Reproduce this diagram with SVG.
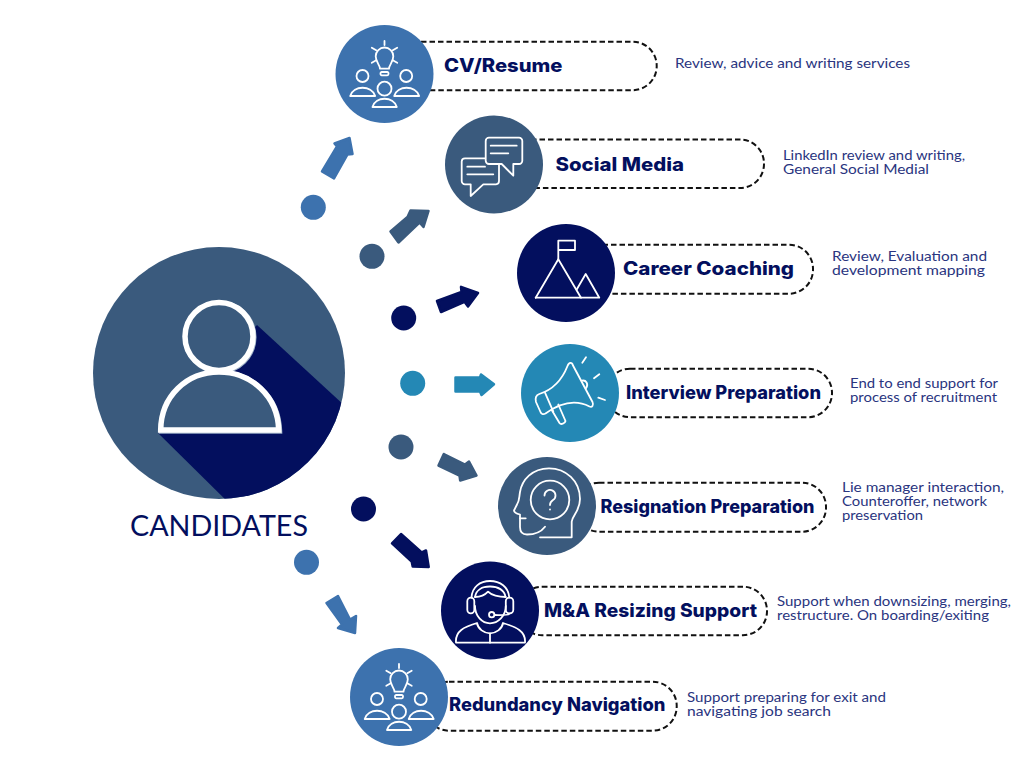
<svg xmlns="http://www.w3.org/2000/svg" xmlns:xlink="http://www.w3.org/1999/xlink" width="1024" height="768" viewBox="0 0 1024 768">
<style>
.blue{fill:#3d72ae}.slate{fill:#3a5a7d}.navy{fill:#030f5e}.teal{fill:#2488b5}
.arrow{stroke-width:2.5;stroke-linejoin:round}
.arrow.blue{stroke:#3d72ae}.arrow.slate{stroke:#3a5a7d}.arrow.navy{stroke:#030f5e}.arrow.teal{stroke:#2488b5}
.pill{fill:#fff;stroke:#111;stroke-width:2;stroke-dasharray:5.500 3}
.ic{fill:none;stroke:#fff;stroke-width:1.800;stroke-linecap:round;stroke-linejoin:round}
.title{font-family:"Inter","Liberation Sans",sans-serif;font-weight:800;font-size:18.500px;fill:#030f5e}
.desc{font-family:"Lato","Liberation Sans",sans-serif;font-size:12.500px;fill:#2a3580}
.main{font-family:"Lato","Liberation Sans",sans-serif;font-size:29px;fill:#030f5e}
</style>
<defs>
<clipPath id="mainClip"><circle cx="219" cy="373" r="126"/></clipPath>
<g id="ideaIcon" class="ic">
<path d="M-4.500 -5.300 C-4.500 -9 -8.800 -12 -8.800 -17.700 A8.800 8.800 0 1 1 8.800 -17.700 C8.800 -12 4.500 -9 4.500 -5.300 Z"/>
<rect x="-4" y="-2" width="8" height="3.300" rx="1.200"/>
<path d="M0 -33V-29M-12.700 -26.300L-8.300 -23.700M12.700 -26.300L8.300 -23.700M-12.700 -11.300L-8.300 -13.700M12.700 -11.300L8.300 -13.700"/>
<circle cx="-22" cy="2" r="6"/><circle cx="21.700" cy="2" r="6"/><circle cx="0" cy="14.700" r="7"/>
<path d="M-34.300 22C-31 11 -13 11 -9.300 22Z"/>
<path d="M9.700 22C13 11 31 11 34.700 22Z"/>
<path d="M-12 33C-9 22 9 22 12.300 33Z"/>
</g>
</defs>
<rect width="1024" height="768" fill="#fff"/>

<g id="connectors">
<circle class="blue" cx="313.300" cy="207.300" r="12.500"/>
<polygon class="arrow blue" points="322,171.500 337,146.500 334.500,143.500 349.500,138 352.500,154 347.500,154.500 334,178.500"/>
<circle class="slate" cx="372" cy="256.300" r="12.500"/>
<polygon class="arrow slate" points="390.500,231.500 407.500,217 410.500,210.500 428.500,211 423.500,227 419.500,222.500 398.500,242.500"/>
<circle class="navy" cx="403.700" cy="318" r="12.500"/>
<polygon class="arrow navy" points="437,301 461.500,292 461,286.800 478,293 468,306.500 464.500,301.800 441,312"/>
<circle class="teal" cx="412.700" cy="383.300" r="12.500"/>
<polygon class="arrow teal" points="455.500,377.500 480,377.500 481,374.500 494,384.300 481.500,395 480,391.500 455.500,391.500"/>
<circle class="slate" cx="401" cy="447" r="12.500"/>
<polygon class="arrow slate" points="438.500,465.500 443.800,454 465,464.500 469,461.500 476.500,475.500 460.200,480.500 459.500,475.500"/>
<circle class="navy" cx="363.500" cy="509" r="12.500"/>
<polygon class="arrow navy" points="392,543.300 401,534 421.700,552.500 426,550.500 428.700,567 412.700,566.500 411.700,561.500"/>
<circle class="blue" cx="306.500" cy="562.300" r="12.500"/>
<polygon class="arrow blue" points="326.500,603 338,596 350,619.500 356,616 355,633 338,628 342,624.500"/>
</g>

<g id="candidates">
<circle class="slate" cx="219" cy="373" r="126"/>
<polygon class="navy" clip-path="url(#mainClip)" points="257,325 345,406 345,510 236,510 158,433"/>
<g fill="none" stroke="#9db0c6" stroke-width="5.500">
<circle cx="219.800" cy="337.200" r="34"/>
<path d="M161.500 431C162 397 188 372.800 220 372.800C252 372.800 278.500 397 279.500 431Z"/>
</g>
<g fill="none" stroke="#fff" stroke-width="5.500">
<circle cx="219" cy="336.500" r="34" fill="#3a5a7d"/>
<path d="M160.700 430C161 396 187 372 219 372C251 372 277.800 396 278.700 430Z" fill="#3a5a7d"/>
</g>
<text class="main" x="130" y="536" textLength="178" lengthAdjust="spacingAndGlyphs">CANDIDATES</text>
</g>

<g id="cv-resume">
<rect class="pill" x="380" y="41.700" width="276.700" height="48.500" rx="24"/>
<circle class="blue" cx="384.500" cy="74" r="49"/>
<use href="#ideaIcon" xlink:href="#ideaIcon" x="384.500" y="74"/>
<text class="title" x="444" y="72" textLength="118.500" lengthAdjust="spacingAndGlyphs">CV/Resume</text>
<text class="desc" x="675" y="68" textLength="235" lengthAdjust="spacingAndGlyphs">Review, advice and writing services</text>
</g>

<g id="social-media">
<rect class="pill" x="490" y="139.500" width="274" height="48.500" rx="24"/>
<circle class="slate" cx="494" cy="164.500" r="49"/>
<g class="ic">
<path d="M465 158.300H496A3.300 3.300 0 0 1 499 161.500V181A3.300 3.300 0 0 1 496 184.300H483.300L470.700 196V184.300H465A3.300 3.300 0 0 1 461.700 181V161.500A3.300 3.300 0 0 1 465 158.300Z"/>
<path d="M467.300 166.700H485M467.300 174.300H493.300"/>
<path d="M489 137.700H519A3.300 3.300 0 0 1 522.300 141V160.700A3.300 3.300 0 0 1 519 164H513.300V175.700L501.700 164H489A3.300 3.300 0 0 1 485.700 160.700V141A3.300 3.300 0 0 1 489 137.700Z" fill="#3a5a7d"/>
<path d="M490.700 145.700H516.700M490.700 153.300H508.300"/>
</g>
<text class="title" x="555.500" y="171" textLength="128.500" lengthAdjust="spacingAndGlyphs">Social Media</text>
<text class="desc" x="783" y="160" textLength="182" lengthAdjust="spacingAndGlyphs">LinkedIn review and writing,</text>
<text class="desc" x="783" y="174" textLength="146" lengthAdjust="spacingAndGlyphs">General Social Medial</text>
</g>

<g id="career-coaching">
<rect class="pill" x="570" y="244.700" width="243" height="49" rx="24"/>
<circle class="navy" cx="566" cy="273" r="49"/>
<g class="ic">
<path d="M558.300 259.300V240.700H575V250H558.300"/>
<path d="M535.700 297.700L558.300 259.300L581 297.700"/>
<path d="M576.700 289.500L585.700 274L599.300 297.700H535.700"/>
</g>
<text class="title" x="623" y="275" textLength="171" lengthAdjust="spacingAndGlyphs">Career Coaching</text>
<text class="desc" x="832" y="261" textLength="155" lengthAdjust="spacingAndGlyphs">Review, Evaluation and</text>
<text class="desc" x="832" y="275" textLength="153" lengthAdjust="spacingAndGlyphs">development mapping</text>
</g>

<g id="interview-preparation">
<rect class="pill" x="606" y="368.700" width="226" height="48.500" rx="24"/>
<circle class="teal" cx="570" cy="393" r="49"/>
<g class="ic">
<path d="M539.300 394C552 390 562 380 567.500 366C569 362 572 362 573 365.500L592.500 402C594 405.500 592 407.500 589.500 406.500C575 399 560 403 545.500 413.500C543 415 541 413.800 540.500 412L536 402C535 398 536.500 395 539.300 394Z"/>
<path d="M545 392.700L553.300 411.700"/>
<path d="M551.700 410L559.500 423C561 425 565 423.500 565.500 421L558.300 404.500"/>
<path d="M581.700 380.700C586 379.500 589 384 586 388.300"/>
<path d="M582.300 362.700L586 357.300M594 378.300L599.300 374.300M598.300 397.700L605 400"/>
</g>
<text class="title" x="626" y="399" textLength="195" lengthAdjust="spacingAndGlyphs">Interview Preparation</text>
<text class="desc" x="850" y="388" textLength="148" lengthAdjust="spacingAndGlyphs">End to end support for</text>
<text class="desc" x="850" y="402" textLength="147" lengthAdjust="spacingAndGlyphs">process of recruitment</text>
</g>

<g id="resignation-preparation">
<rect class="pill" x="575" y="482.700" width="251" height="49" rx="24"/>
<circle class="slate" cx="547" cy="506" r="49"/>
<g class="ic">
<path d="M540 537.300H571.700V521.700C573 514 580 511 580 499C580 481 566 468.300 549 468.300C532 468.300 522 480 520 492C519 498 519.500 501 517 504.500L514 510.500C514 513 518 514 520 514.500V527C520 532 523 534.500 527 534.500C534 534.500 541 532 545 526.700"/>
<path d="M520 518.300H525.700"/>
<circle cx="550" cy="500" r="19.300"/>
<path d="M544.500 495.500A5.500 5.500 0 1 1 553 500.100C551 501.500 550 502.600 550 505"/>
<path d="M550 509.300V509.500"/>
</g>
<text class="title" x="600.500" y="513" textLength="214" lengthAdjust="spacingAndGlyphs">Resignation Preparation</text>
<text class="desc" x="842" y="491.500" textLength="162" lengthAdjust="spacingAndGlyphs">Lie manager interaction,</text>
<text class="desc" x="842" y="505.500" textLength="145" lengthAdjust="spacingAndGlyphs">Counteroffer, network</text>
<text class="desc" x="842" y="519.500" textLength="81" lengthAdjust="spacingAndGlyphs">preservation</text>
</g>

<g id="ma-resizing-support">
<rect class="pill" x="518" y="586.700" width="249" height="48.500" rx="24"/>
<circle class="navy" cx="490" cy="610.500" r="49"/>
<g class="ic">
<path d="M471.500 597.500C472 587 480 581 490 581C500 581 508.500 587 509.300 597.500"/>
<path d="M475 597C476 590 482 586.500 490 586.500C498 586.500 504.500 590 505.500 597"/>
<rect x="467.300" y="597.700" width="7" height="15.600" rx="3.500"/>
<rect x="505.800" y="597.700" width="7.500" height="15.600" rx="3.500"/>
<path d="M475 597C480 597 485 595 488 591.700C491 595 499 597 505.800 597"/>
<path d="M475 606C475 616 482 623.300 490 623.300C498 623.300 505.800 616 505.800 606"/>
<path d="M510 613.300C509.500 615 505 615.500 494.500 615"/>
<circle cx="491.700" cy="614.700" r="2.700"/>
<path d="M456 642.700C455 631 464 627 477 623C478 629 484 633.300 490 633.300C496 633.300 502 629 503 623C516 627 526 631 525 642.700Z"/>
<path d="M490 633.300V642.700"/>
</g>
<text class="title" x="544" y="617" textLength="213" lengthAdjust="spacingAndGlyphs">M&amp;A Resizing Support</text>
<text class="desc" x="777" y="606" textLength="234" lengthAdjust="spacingAndGlyphs">Support when downsizing, merging,</text>
<text class="desc" x="777" y="620" textLength="212" lengthAdjust="spacingAndGlyphs">restructure. On boarding/exiting</text>
</g>

<g id="redundancy-navigation">
<rect class="pill" x="425" y="681.700" width="251.700" height="49" rx="24"/>
<circle class="blue" cx="399" cy="697" r="49"/>
<use href="#ideaIcon" xlink:href="#ideaIcon" x="399" y="697"/>
<text class="title" x="449" y="711" textLength="216.500" lengthAdjust="spacingAndGlyphs">Redundancy Navigation</text>
<text class="desc" x="687" y="702" textLength="199" lengthAdjust="spacingAndGlyphs">Support preparing for exit and</text>
<text class="desc" x="687" y="716" textLength="144" lengthAdjust="spacingAndGlyphs">navigating job search</text>
</g>
</svg>
